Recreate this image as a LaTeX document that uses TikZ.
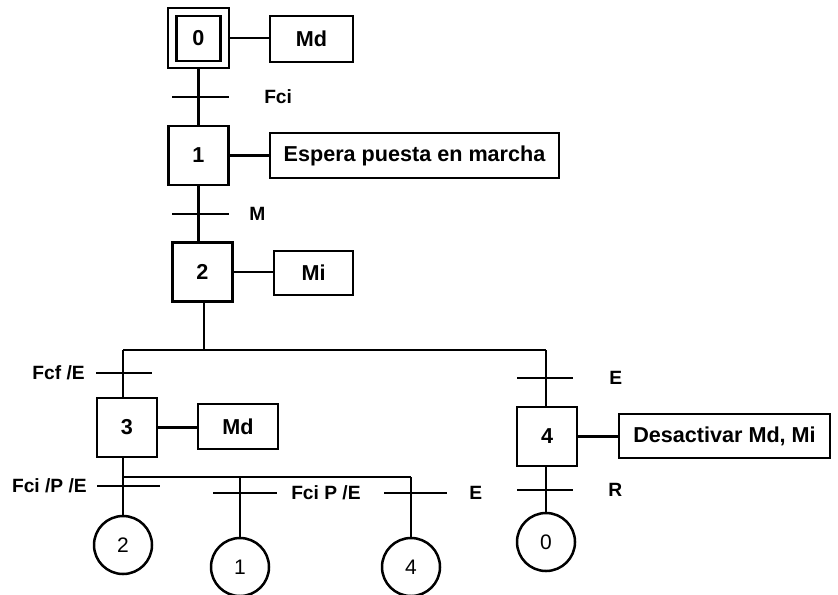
\documentclass[tikz,border=0pt]{standalone}
\usepackage{fontspec}
\setmainfont{Liberation Sans}
\begin{document}
\begin{tikzpicture}[x=0.5pt,y=-0.5pt,line width=1.25pt,
  stepbox/.style={draw,rectangle,inner sep=0pt,minimum width=30pt,minimum height=29.5pt,font=\fontsize{10.8}{13}\selectfont\bfseries},
  actbox/.style={draw,rectangle,inner sep=0pt,minimum height=22.5pt,font=\fontsize{10.8}{13}\selectfont\bfseries},
  jump/.style={draw,circle,inner sep=0pt,minimum size=29pt,font=\fontsize{10.5}{12}\selectfont},
  lbl/.style={inner sep=0pt,font=\fontsize{9.6}{12}\selectfont\bfseries},
  bar/.style={line width=1.25pt}]
\useasboundingbox (0,0) rectangle (838,594);
% steps
\node[stepbox,minimum width=30.5pt,minimum height=30pt] (s0o) at (198.5,38) {};
\node[stepbox,minimum width=22pt,minimum height=22.5pt] (s0) at (198.5,38.5) {0};
\node[stepbox] (s1) at (198.5,155.5) {1};
\node[stepbox] (s2) at (202.5,272) {2};
\node[stepbox] (s3) at (127,427.5) {3};
\node[stepbox] (s4) at (547,436.5) {4};
% actions
\node[actbox,minimum width=41.5pt,minimum height=23pt] (a0) at (311.5,39) {Md};
\node[actbox,minimum width=144.5pt] (a1) at (414.5,155.5) {Espera puesta en marcha};
\node[actbox,minimum width=39.5pt,minimum height=22pt] (a2) at (313.5,273) {Mi};
\node[actbox,minimum width=40pt] (a3) at (238,426.5) {Md};
\node[actbox,minimum width=105.5pt,minimum height=22pt] (a4) at (724.5,436) {Desactivar Md, Mi};
% jumps
\node[jump] (c2) at (123,545) {2};
\node[jump] (c1) at (240,567) {1};
\node[jump] (c4) at (411,567) {4};
\node[jump] (c0) at (546,542) {0};
% action links
\draw (s0o.east) -- (a0.west |- s0o.east);
\draw (s1.east) -- (a1.west);
\draw (s2.east) -- (a2.west |- s2.east);
\draw (s3.east) -- (a3.west |- s3.east);
\draw (s4.east) -- (a4.west |- s4.east);
% coordinates
\coordinate (d0) at (204,350);
\coordinate (dl) at (123,350);
\coordinate (dr) at (546,350);
\coordinate (j0) at (123,477);
\coordinate (j1) at (240,477);
\coordinate (j2) at (411,477);
% main links
\draw (s0o.south) -- (s0o.south |- s1.north);
\draw (s1.south) -- (s1.south |- s2.north);
\draw (s2.south -| d0) -- (d0);
\draw (dl) -- (dr);
\draw (dl) -- (dl |- s3.north);
\draw (dr) -- (dr |- s4.north);
\draw (s3.south -| j0) -- (c2.north);
\draw (j0) -- (j2);
\draw (j1) -- (c1.north);
\draw (j2) -- (c4.north);
\draw (s4.south -| c0) -- (c0.north);
% transition bars
\coordinate (t0a) at (172,97);  \coordinate (t0b) at (229,97);
\coordinate (t1a) at (172,214); \coordinate (t1b) at (229,214);
\coordinate (t2a) at (96,373);  \coordinate (t2b) at (152,373);
\coordinate (t3a) at (97,486);  \coordinate (t3b) at (160,486);
\coordinate (t4a) at (213,493); \coordinate (t4b) at (277,493);
\coordinate (t5a) at (384,493); \coordinate (t5b) at (447,493);
\coordinate (t6a) at (517,378); \coordinate (t6b) at (573,378);
\coordinate (t7a) at (517,490); \coordinate (t7b) at (573,490);
\foreach \t in {t0,t1,t2,t3,t4,t5,t6,t7} \draw[bar] (\t a) -- (\t b);
% transition labels
\node[lbl,anchor=west] (l0) at (263,97) {Fci};
\node[lbl,anchor=west] (l1) at (248,214) {M};
\node[lbl,anchor=east] (l2) at (86,373) {Fcf /E};
\node[lbl,anchor=east] (l3) at (88,486) {Fci /P /E};
\node[lbl,anchor=west] (l4) at (290,493) {Fci P /E};
\node[lbl,anchor=west] (l5) at (468,493) {E};
\node[lbl,anchor=west] (l6) at (608,378) {E};
\node[lbl,anchor=west] (l7) at (607,490) {R};
\end{tikzpicture}
\end{document}
